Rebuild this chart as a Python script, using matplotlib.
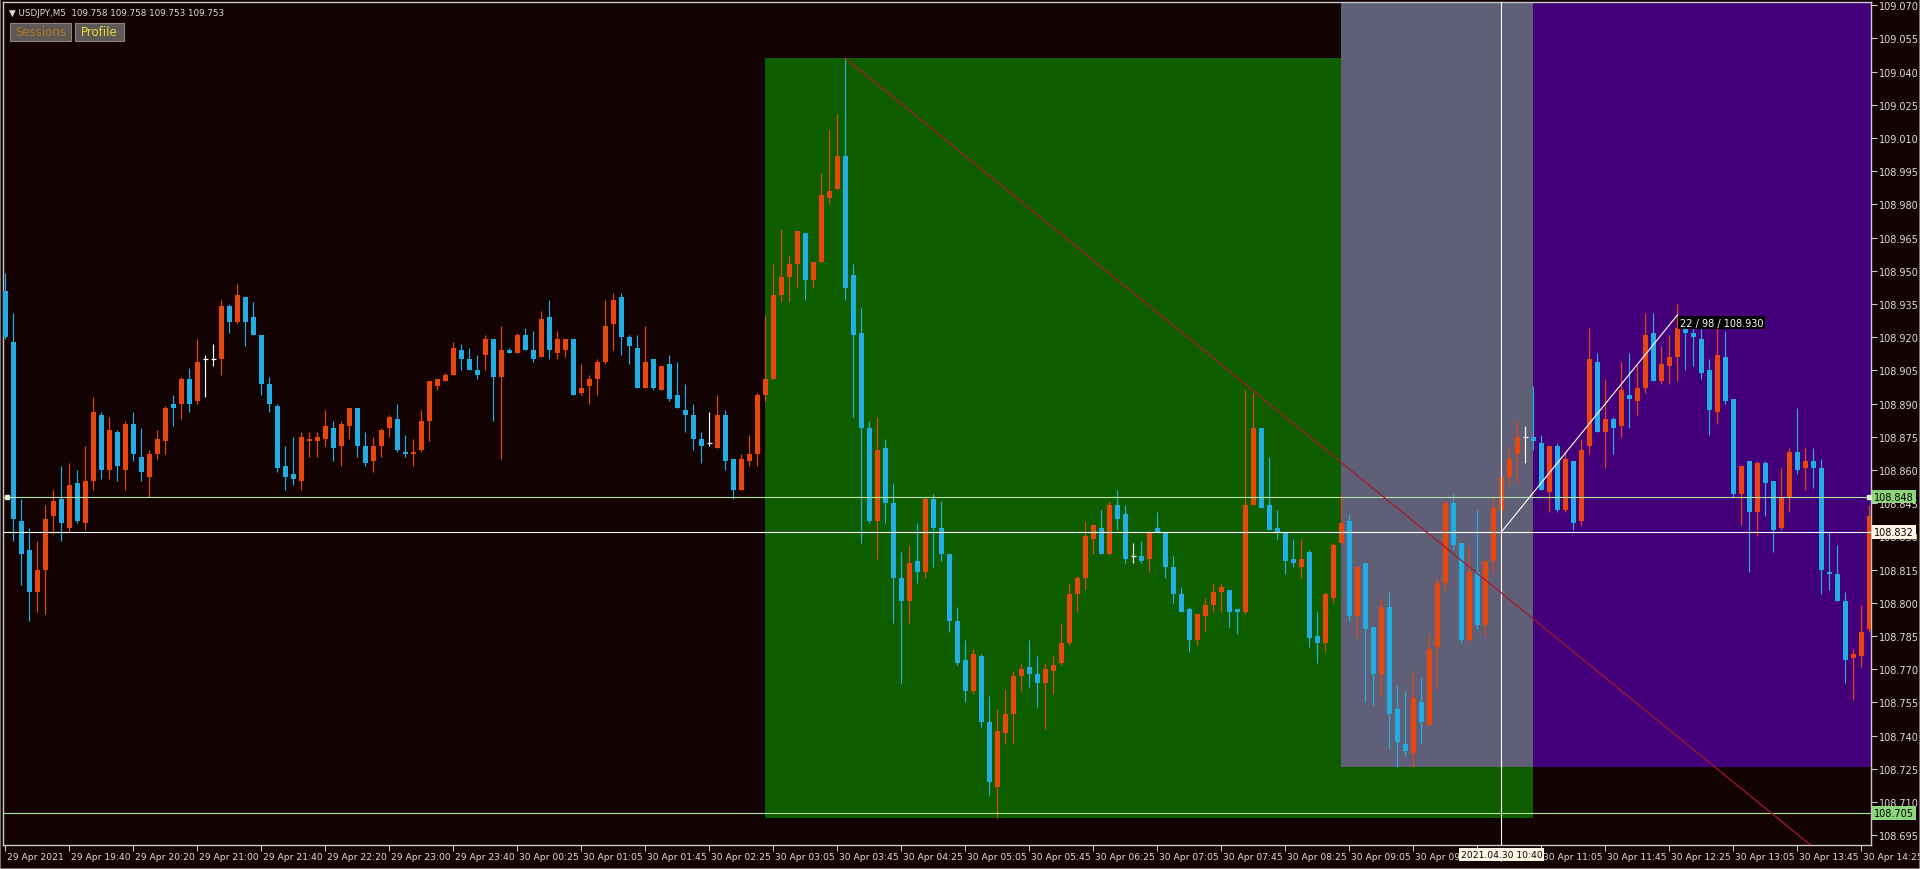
"""USDJPY M5 candlestick chart, MT4 style, 29-30 Apr 2021."""

import matplotlib
matplotlib.use("Agg")
import matplotlib.pyplot as plt
import matplotlib.transforms as mtransforms
from matplotlib.patches import Rectangle
import numpy as np

# OHLC per bar (bar 0 = 29 Apr 19:00)
opens = [
    108.941, 108.918, 108.837, 108.824, 108.805, 108.815, 108.839, 108.847, 108.834, 108.854,
    108.836, 108.855, 108.885, 108.860, 108.877, 108.860, 108.881, 108.866, 108.857, 108.867,
    108.873, 108.890, 108.890, 108.901, 108.891, 108.910, 108.910, 108.910, 108.934, 108.927,
    108.938, 108.929, 108.921, 108.899, 108.889, 108.862, 108.858, 108.855, 108.873, 108.873,
    108.874, 108.879, 108.871, 108.880, 108.888, 108.871, 108.864, 108.871, 108.879, 108.883,
    108.868, 108.867, 108.869, 108.882, 108.898, 108.900, 108.903, 108.914, 108.910, 108.905,
    108.912, 108.919, 108.902, 108.914, 108.913, 108.921, 108.914, 108.911, 108.929, 108.913,
    108.914, 108.919, 108.895, 108.898, 108.901, 108.909, 108.926, 108.938, 108.920, 108.915,
    108.897, 108.910, 108.896, 108.908, 108.894, 108.887, 108.885, 108.874, 108.872, 108.870,
    108.885, 108.865, 108.851, 108.864, 108.867, 108.894, 108.901, 108.939, 108.947, 108.953,
    108.967, 108.946, 108.954, 108.983, 108.987, 109.002, 108.948, 108.922, 108.879, 108.837,
    108.870, 108.845, 108.811, 108.801, 108.819, 108.814, 108.847, 108.834, 108.822, 108.792,
    108.774, 108.760, 108.776, 108.746, 108.717, 108.741, 108.750, 108.767, 108.771, 108.768,
    108.764, 108.769, 108.773, 108.782, 108.804, 108.811, 108.829, 108.834, 108.822, 108.844,
    108.840, 108.821, 108.821, 108.820, 108.834, 108.832, 108.816, 108.804, 108.797, 108.783,
    108.794, 108.799, 108.805, 108.806, 108.797, 108.796, 108.844, 108.879, 108.844, 108.834,
    108.832, 108.820, 108.816, 108.823, 108.785, 108.782, 108.802, 108.827, 108.837, 108.794,
    108.818, 108.789, 108.768, 108.798, 108.752, 108.736, 108.732, 108.755, 108.745, 108.780,
    108.809, 108.845, 108.827, 108.783, 108.814, 108.790, 108.819, 108.842, 108.857, 108.867,
    108.875, 108.875, 108.872, 108.850, 108.871, 108.842, 108.864, 108.837, 108.871, 108.909,
    108.877, 108.883, 108.880, 108.894, 108.891, 108.897, 108.922, 108.900, 108.907, 108.911,
    108.924, 108.922, 108.919, 108.905, 108.886, 108.911, 108.892, 108.849, 108.864, 108.841,
    108.863, 108.855, 108.834, 108.848, 108.868, 108.861, 108.864, 108.861, 108.814, 108.813,
    108.801, 108.775, 108.776, 108.788,
]
highs = [
    108.949, 108.931, 108.847, 108.834, 108.828, 108.844, 108.851, 108.862, 108.863, 108.860,
    108.871, 108.893, 108.886, 108.884, 108.878, 108.882, 108.886, 108.879, 108.869, 108.878,
    108.889, 108.894, 108.902, 108.906, 108.919, 108.912, 108.917, 108.937, 108.935, 108.944,
    108.938, 108.936, 108.921, 108.902, 108.890, 108.871, 108.875, 108.877, 108.877, 108.877,
    108.887, 108.882, 108.882, 108.888, 108.888, 108.877, 108.875, 108.879, 108.885, 108.890,
    108.876, 108.874, 108.887, 108.900, 108.901, 108.904, 108.918, 108.917, 108.915, 108.912,
    108.921, 108.919, 108.925, 108.915, 108.922, 108.924, 108.923, 108.932, 108.937, 108.923,
    108.919, 108.919, 108.908, 108.903, 108.910, 108.937, 108.940, 108.940, 108.921, 108.921,
    108.925, 108.910, 108.907, 108.912, 108.909, 108.899, 108.890, 108.877, 108.886, 108.894,
    108.887, 108.865, 108.867, 108.876, 108.895, 108.930, 108.953, 108.969, 108.957, 108.968,
    108.967, 108.954, 108.994, 109.014, 109.021, 109.046, 108.953, 108.933, 108.882, 108.884,
    108.874, 108.854, 108.823, 108.826, 108.836, 108.848, 108.849, 108.846, 108.822, 108.798,
    108.783, 108.779, 108.777, 108.758, 108.752, 108.761, 108.769, 108.773, 108.783, 108.776,
    108.773, 108.776, 108.791, 108.809, 108.812, 108.837, 108.835, 108.842, 108.846, 108.851,
    108.844, 108.827, 108.828, 108.833, 108.841, 108.832, 108.821, 108.807, 108.798, 108.795,
    108.802, 108.809, 108.809, 108.806, 108.797, 108.896, 108.895, 108.879, 108.866, 108.842,
    108.832, 108.829, 108.829, 108.824, 108.796, 108.805, 108.827, 108.849, 108.840, 108.816,
    108.818, 108.789, 108.802, 108.805, 108.763, 108.760, 108.769, 108.766, 108.786, 108.811,
    108.846, 108.849, 108.827, 108.825, 108.842, 108.819, 108.848, 108.863, 108.871, 108.882,
    108.880, 108.898, 108.876, 108.871, 108.872, 108.868, 108.864, 108.874, 108.924, 108.913,
    108.901, 108.884, 108.909, 108.913, 108.908, 108.931, 108.931, 108.916, 108.921, 108.935,
    108.924, 108.924, 108.924, 108.910, 108.924, 108.923, 108.892, 108.862, 108.864, 108.864,
    108.864, 108.855, 108.861, 108.870, 108.888, 108.870, 108.870, 108.865, 108.832, 108.826,
    108.805, 108.779, 108.799, 108.844,
]
lows = [
    108.919, 108.828, 108.808, 108.792, 108.796, 108.795, 108.831, 108.828, 108.832, 108.836,
    108.833, 108.851, 108.856, 108.856, 108.855, 108.851, 108.864, 108.855, 108.848, 108.865,
    108.867, 108.880, 108.883, 108.886, 108.890, 108.893, 108.907, 108.903, 108.922, 108.926,
    108.916, 108.921, 108.894, 108.886, 108.859, 108.851, 108.853, 108.851, 108.866, 108.866,
    108.871, 108.864, 108.862, 108.874, 108.866, 108.862, 108.859, 108.866, 108.875, 108.868,
    108.866, 108.862, 108.868, 108.873, 108.896, 108.900, 108.903, 108.905, 108.905, 108.901,
    108.905, 108.882, 108.865, 108.913, 108.913, 108.914, 108.909, 108.911, 108.910, 108.910,
    108.911, 108.894, 108.894, 108.890, 108.894, 108.908, 108.914, 108.912, 108.908, 108.897,
    108.897, 108.896, 108.896, 108.891, 108.888, 108.877, 108.869, 108.863, 108.871, 108.870,
    108.860, 108.847, 108.851, 108.862, 108.862, 108.891, 108.901, 108.936, 108.936, 108.942,
    108.937, 108.942, 108.954, 108.980, 108.987, 108.937, 108.884, 108.827, 108.836, 108.820,
    108.836, 108.791, 108.764, 108.791, 108.809, 108.811, 108.816, 108.819, 108.787, 108.772,
    108.755, 108.759, 108.744, 108.713, 108.703, 108.736, 108.736, 108.760, 108.762, 108.753,
    108.743, 108.759, 108.772, 108.781, 108.796, 108.806, 108.822, 108.822, 108.822, 108.833,
    108.818, 108.818, 108.818, 108.814, 108.832, 108.811, 108.800, 108.796, 108.778, 108.781,
    108.787, 108.796, 108.796, 108.789, 108.786, 108.795, 108.844, 108.843, 108.833, 108.829,
    108.813, 108.816, 108.811, 108.780, 108.773, 108.778, 108.800, 108.827, 108.792, 108.784,
    108.755, 108.754, 108.758, 108.734, 108.726, 108.731, 108.726, 108.736, 108.745, 108.761,
    108.806, 108.824, 108.782, 108.782, 108.788, 108.785, 108.814, 108.827, 108.853, 108.854,
    108.863, 108.869, 108.851, 108.841, 108.841, 108.841, 108.833, 108.835, 108.867, 108.877,
    108.861, 108.867, 108.875, 108.879, 108.885, 108.895, 108.900, 108.899, 108.899, 108.900,
    108.905, 108.907, 108.901, 108.876, 108.881, 108.890, 108.848, 108.835, 108.814, 108.830,
    108.839, 108.823, 108.833, 108.841, 108.858, 108.851, 108.852, 108.804, 108.806, 108.801,
    108.764, 108.756, 108.771, 108.787,
]
closes = [
    108.920, 108.838, 108.822, 108.805, 108.815, 108.838, 108.846, 108.836, 108.853, 108.837,
    108.855, 108.886, 108.860, 108.878, 108.862, 108.881, 108.867, 108.859, 108.867, 108.874,
    108.888, 108.888, 108.901, 108.890, 108.909, 108.910, 108.910, 108.934, 108.927, 108.939,
    108.927, 108.921, 108.899, 108.890, 108.861, 108.857, 108.856, 108.875, 108.874, 108.875,
    108.880, 108.870, 108.881, 108.888, 108.871, 108.863, 108.871, 108.878, 108.884, 108.869,
    108.867, 108.868, 108.882, 108.900, 108.901, 108.903, 108.915, 108.910, 108.905, 108.903,
    108.919, 108.902, 108.914, 108.913, 108.921, 108.914, 108.910, 108.928, 108.914, 108.919,
    108.919, 108.894, 108.897, 108.901, 108.909, 108.925, 108.937, 108.920, 108.916, 108.897,
    108.909, 108.897, 108.907, 108.892, 108.888, 108.885, 108.874, 108.871, 108.872, 108.885,
    108.864, 108.851, 108.865, 108.867, 108.894, 108.901, 108.939, 108.947, 108.953, 108.968,
    108.946, 108.954, 108.984, 108.986, 109.002, 108.942, 108.921, 108.879, 108.837, 108.869,
    108.845, 108.811, 108.801, 108.818, 108.814, 108.847, 108.834, 108.822, 108.792, 108.773,
    108.760, 108.777, 108.746, 108.719, 108.742, 108.750, 108.767, 108.770, 108.768, 108.764,
    108.770, 108.772, 108.782, 108.804, 108.811, 108.830, 108.835, 108.822, 108.844, 108.838,
    108.820, 108.821, 108.819, 108.832, 108.832, 108.816, 108.804, 108.796, 108.783, 108.795,
    108.799, 108.805, 108.807, 108.796, 108.796, 108.844, 108.879, 108.843, 108.833, 108.832,
    108.819, 108.818, 108.820, 108.784, 108.782, 108.804, 108.826, 108.836, 108.794, 108.816,
    108.788, 108.768, 108.798, 108.750, 108.737, 108.733, 108.757, 108.746, 108.779, 108.809,
    108.845, 108.826, 108.783, 108.814, 108.790, 108.819, 108.843, 108.857, 108.865, 108.875,
    108.875, 108.873, 108.851, 108.871, 108.842, 108.865, 108.836, 108.869, 108.910, 108.877,
    108.883, 108.879, 108.896, 108.892, 108.897, 108.921, 108.900, 108.908, 108.911, 108.924,
    108.922, 108.920, 108.904, 108.887, 108.912, 108.891, 108.849, 108.862, 108.841, 108.863,
    108.854, 108.833, 108.848, 108.868, 108.860, 108.864, 108.861, 108.815, 108.813, 108.801,
    108.774, 108.777, 108.787, 108.839,
]

# axis labels
price_labels = [
    "109.070", "109.055", "109.040", "109.025", "109.010", "108.995", "108.980",
    "108.965", "108.950", "108.935", "108.920", "108.905", "108.890", "108.875",
    "108.860", "108.845", "108.830", "108.815", "108.800", "108.785", "108.770",
    "108.755", "108.740", "108.725", "108.710", "108.695",
]
time_labels = [
    "29 Apr 2021", "29 Apr 19:40", "29 Apr 20:20", "29 Apr 21:00", "29 Apr 21:40",
    "29 Apr 22:20", "29 Apr 23:00", "29 Apr 23:40", "30 Apr 00:25", "30 Apr 01:05",
    "30 Apr 01:45", "30 Apr 02:25", "30 Apr 03:05", "30 Apr 03:45", "30 Apr 04:25",
    "30 Apr 05:05", "30 Apr 05:45", "30 Apr 06:25", "30 Apr 07:05", "30 Apr 07:45",
    "30 Apr 08:25", "30 Apr 09:05", "30 Apr 09:45", "30 Apr 10:25", "30 Apr 11:05",
    "30 Apr 11:45", "30 Apr 12:25", "30 Apr 13:05", "30 Apr 13:45", "30 Apr 14:25",
]
bars_per_label = 8

# objects on the chart
levels_green = [108.848, 108.705]
crosshair_bar, crosshair_price = 187, 108.832
measure_bar, measure_price = 209, 108.930
trend_start = (105, 109.046)
trend_end = (225.5, 108.691)
rect_green = (95, 191, 108.703, 109.046)
rect_gray = (167, 191, 108.726, 109.072)
rect_purple = (191, 240, 108.726, 109.072)

BG = "#130303"
FG = "#dcdcdc"
BULL = "#E8460C"
BEAR = "#22AEE4"
DOJI = "#ffffff"
W, H = 1920, 870

fig = plt.figure(figsize=(W / 100, H / 100), dpi=100, facecolor=BG)
ax = fig.add_axes([3 / W, 1 - 846 / H, 1868 / W, 843 / H])
ax.set_facecolor(BG)
ax.set_xlim(-0.29, 233.2)
ax.set_ylim(108.6906, 109.0714)
for sp in ax.spines.values():
    sp.set_color("#c8c8c8")
    sp.set_linewidth(1.0)

# rectangles
for (x0, x1, y0, y1), col in [(rect_green, "#0E5E00"), (rect_gray, "#5F5F77"),
                              (rect_purple, "#43007A")]:
    ax.add_patch(Rectangle((x0, y0), x1 - x0, y1 - y0, facecolor=col,
                           edgecolor="none", zorder=1))

# candles
o, h, l, c = map(np.array, (opens, highs, lows, closes))
x = np.arange(len(o))
cols = np.where(c > o, BULL, np.where(c < o, BEAR, DOJI)).tolist()
ax.vlines(x, l, h, colors=cols, lw=0.85, zorder=3)
body = c != o
ax.bar(x[body], np.maximum(np.abs(c - o), 0.0005)[body], bottom=np.minimum(o, c)[body],
       width=0.6, color=np.array(cols)[body].tolist(), lw=0, zorder=3)
ax.hlines(o[~body], x[~body] - 0.35, x[~body] + 0.35, colors=DOJI, lw=0.85, zorder=3)

# horizontal levels, crosshair, trendline
for lv in levels_green:
    ax.axhline(lv, color="#B4E4A0", lw=0.8, zorder=5)
ax.axhline(crosshair_price, color="white", lw=0.8, zorder=5)
ax.axvline(crosshair_bar, color="white", lw=0.8, zorder=5)
ax.plot([0.2, 233], [levels_green[0]] * 2, "s", ms=3.2, color="#E0F4D4", zorder=6, clip_on=False)

slope = (trend_end[1] - trend_start[1]) / (trend_end[0] - trend_start[0])
ax.plot([trend_start[0], 245], [trend_start[1], trend_start[1] + slope * (245 - trend_start[0])],
        color="#A8182C", lw=0.9, zorder=5)
ax.plot([crosshair_bar, measure_bar], [crosshair_price, measure_price], color="white", lw=0.8, zorder=6)
ax.text(measure_bar + 0.3, measure_price - 0.0012, "22 / 98 / 108.930", color="white", fontsize=7,
        ha="left", va="top", zorder=7,
        bbox=dict(boxstyle="square,pad=0.15", fc="black", ec="none"))

# price axis on the right
ax.yaxis.tick_right()
ax.set_yticks([float(s) for s in price_labels])
ax.set_yticklabels(price_labels)
ax.tick_params(axis="y", direction="out", length=4, width=0.8, color="#c8c8c8",
               labelcolor=FG, labelsize=7, pad=2)

# time axis
ax.set_xticks(np.arange(len(time_labels)) * bars_per_label)
ax.set_xticklabels(time_labels, ha="left")
ax.tick_params(axis="x", direction="out", length=4, width=0.8, color="#c8c8c8",
               labelcolor=FG, labelsize=6.6, pad=1)
shift = mtransforms.ScaledTranslation(2 / 100, 0, fig.dpi_scale_trans)
for lab in ax.get_xticklabels():
    lab.set_transform(lab.get_transform() + shift)

# labels of the lines on the price scale
ytrans = mtransforms.blended_transform_factory(ax.transAxes, ax.transData)
for lv, txt, bg in [(levels_green[0], "108.848", "#8ED67A"),
                    (crosshair_price, "108.832", "#FFF6E6"),
                    (levels_green[1], "108.705", "#8ED67A")]:
    ax.text(1 + 3 / 1868, lv, txt, transform=ytrans, ha="left", va="center", fontsize=7,
            color="black", zorder=10, clip_on=False,
            bbox=dict(boxstyle="square,pad=0.2", fc=bg, ec="none"))

xtrans = mtransforms.blended_transform_factory(ax.transData, ax.transAxes)
ax.text(crosshair_bar, -9.5 / 843, "2021.04.30 10:40", transform=xtrans, ha="center", va="center",
        fontsize=6.6, color="black", zorder=10, clip_on=False,
        bbox=dict(boxstyle="square,pad=0.2", fc="#FFF6E6", ec="none"))

# header and buttons
fig.text(9 / W, 1 - 13 / H, "▼ USDJPY,M5  109.758 109.758 109.753 109.753", color=FG,
         fontsize=6.3, ha="left", va="center")
for (bx, bw, txt, tc) in [(10, 61, "Sessions", "#B07A2A"), (75, 49, "Profile", "#E6DA3E")]:
    fig.add_artist(Rectangle((bx / W, 1 - 42 / H), bw / W, 18 / H, transform=fig.transFigure,
                             facecolor="#5E5955", edgecolor="#8C8680", lw=0.8))
    fig.text((bx + bw / 2) / W, 1 - 33 / H, txt, color=tc, fontsize=8.5,
             ha="center", va="center")

fig.add_artist(Rectangle((0, 0), 1, 1, transform=fig.transFigure, fill=False,
                         edgecolor="#8a8a8a", lw=1.2))

fig.savefig("out.png", dpi=100, facecolor=BG)
